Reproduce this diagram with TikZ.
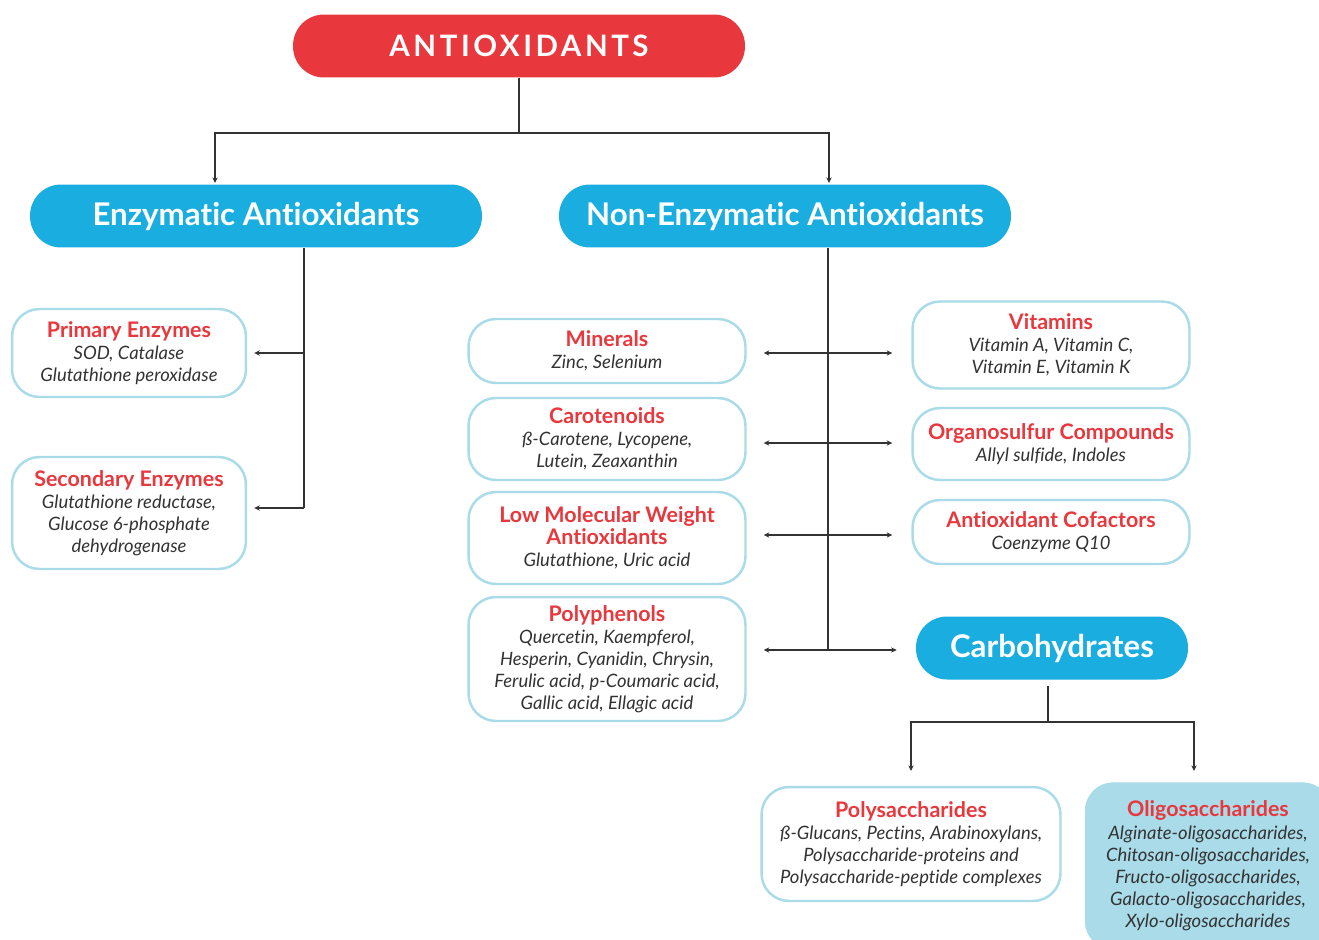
\documentclass[tikz,border=0pt]{standalone}
\usepackage{fontspec}
\setmainfont{Lato}[Ligatures=NoCommon]
\usetikzlibrary{arrows.meta}
\definecolor{aoxRed}{HTML}{E8383D}
\definecolor{aoxBlue}{HTML}{1AADE0}
\definecolor{aoxEdge}{HTML}{A9DBE9}
\definecolor{aoxInk}{HTML}{333333}
\newcommand{\aoxTitle}[1]{{\upshape\bfseries\color{aoxRed}\fontsize{12.2}{12.6}\selectfont #1}}
\begin{document}
\begin{tikzpicture}[
    x=0.02cm,y=-0.02cm,
    aoxPill/.style={rounded corners=0.62cm,fill=aoxBlue,text=white,minimum width=9.04cm,minimum height=1.26cm,inner sep=0pt,font=\bfseries\fontsize{17.8}{20}\selectfont},
    aoxBox/.style={rounded corners=0.55cm,draw=aoxEdge,line width=1.4pt,fill=white,minimum width=4.68cm,inner sep=0pt,align=center,text=aoxInk,font=\itshape\fontsize{10.5}{12.6}\selectfont},
    aoxLine/.style={draw=aoxInk,line width=0.85pt},
    aoxArr/.style={aoxLine,-{Stealth[length=3.2pt,width=3pt]}},
    aoxArrLR/.style={aoxLine,{Stealth[length=3.2pt,width=3pt]}-{Stealth[length=3.2pt,width=3pt]}},
]
\clip (0,0) rectangle (1319,940);
\fill[white] (0,0) rectangle (1319,940);
% top level
\node[aoxPill,fill=aoxRed,font=\bfseries\fontsize{16.8}{19}\selectfont\addfontfeature{LetterSpace=12}] (anti) at (519,46) {ANTIOXIDANTS};
\node[aoxPill] (enz) at (256,216) {Enzymatic Antioxidants};
\node[aoxPill] (nenz) at (785,216) {Non-Enzymatic Antioxidants};
% enzymatic
\node[aoxBox,minimum height=1.76cm] (prim) at (129,353) {\aoxTitle{Primary Enzymes}\\SOD, Catalase\\Glutathione peroxidase};
\node[aoxBox,minimum height=2.24cm] (sec) at (129,513) {\aoxTitle{Secondary Enzymes}\\Glutathione reductase,\\Glucose 6-phosphate\\dehydrogenase};
% non-enzymatic, left column
\node[aoxBox,minimum width=5.54cm,minimum height=1.28cm] (min) at (607,351) {\aoxTitle{Minerals}\\Zinc, Selenium};
\node[aoxBox,minimum width=5.54cm,minimum height=1.64cm] (car) at (607,439) {\aoxTitle{Carotenoids}\\ß-Carotene, Lycopene,\\Lutein, Zeaxanthin};
\node[aoxBox,minimum width=5.54cm,minimum height=1.84cm] (lmw) at (607,538) {\aoxTitle{Low Molecular Weight}\\\aoxTitle{Antioxidants}\\Glutathione, Uric acid};
\node[aoxBox,minimum width=5.54cm,minimum height=2.48cm] (pol) at (607,659) {\aoxTitle{Polyphenols}\\Quercetin, Kaempferol,\\Hesperin, Cyanidin, Chrysin,\\Ferulic acid, p-Coumaric acid,\\Gallic acid, Ellagic acid};
% non-enzymatic, right column
\node[aoxBox,minimum width=5.54cm,minimum height=1.74cm] (vit) at (1051,345) {\aoxTitle{Vitamins}\\Vitamin A, Vitamin C,\\Vitamin E, Vitamin K};
\node[aoxBox,minimum width=5.54cm,minimum height=1.44cm] (org) at (1051,444) {\aoxTitle{Organosulfur Compounds}\\Allyl sulfide, Indoles};
\node[aoxBox,minimum width=5.54cm,minimum height=1.28cm] (cof) at (1051,532) {\aoxTitle{Antioxidant Cofactors}\\Coenzyme Q10};
\node[aoxPill,minimum width=5.44cm] (carb) at (1052,648) {Carbohydrates};
% carbohydrates
\node[aoxBox,minimum width=5.98cm,minimum height=2.28cm] (psac) at (911,844) {\aoxTitle{Polysaccharides}\\ß-Glucans, Pectins, Arabinoxylans,\\Polysaccharide-proteins and\\Polysaccharide-peptide complexes};
\node[aoxBox,fill=aoxEdge,minimum width=4.88cm,minimum height=3.3cm] (osac) at (1208,866) {\aoxTitle{Oligosaccharides}\\Alginate-oligosaccharides,\\Chitosan-oligosaccharides,\\Fructo-oligosaccharides,\\Galacto-oligosaccharides,\\Xylo-oligosaccharides};
% junctions
\coordinate (topJ) at (519,133);
\coordinate (enzEnd) at (215,183);
\coordinate (nenzEnd) at (829,183);
\coordinate (enzTop) at (304,248);
\coordinate (enzA) at (304,353);
\coordinate (enzB) at (304,508);
\coordinate (nenzTop) at (828,248);
\coordinate (row1) at (828,353);
\coordinate (row2) at (828,443);
\coordinate (row3) at (828,535);
\coordinate (row4) at (828,650);
\coordinate (carbTop) at (1048,686);
\coordinate (carbJ) at (1048,722);
\coordinate (psacEnd) at (911,771);
\coordinate (osacEnd) at (1194,771);
% connectors
\draw[aoxLine] (anti.south) -- (topJ);
\draw[aoxArr] (topJ) -| (enzEnd);
\draw[aoxArr] (topJ) -| (nenzEnd);
\draw[aoxLine] (enzTop) -- (enzB);
\draw[aoxArr,shorten >=0.14cm] (enzA) -- (enzA -| prim.east);
\draw[aoxArr,shorten >=0.14cm] (enzB) -- (enzB -| sec.east);
\draw[aoxLine] (nenzTop) -- (row4);
\foreach \i/\l/\r in {1/min/vit,2/car/org,3/lmw/cof,4/pol/carb}
  \draw[aoxArrLR,shorten <=0.34cm,shorten >=0.38cm] (row\i -| \l.east) -- (row\i -| \r.west);
\draw[aoxLine] (carbTop) -- (carbJ);
\draw[aoxArr] (carbJ) -| (psacEnd);
\draw[aoxArr] (carbJ) -| (osacEnd);
\end{tikzpicture}
\end{document}
